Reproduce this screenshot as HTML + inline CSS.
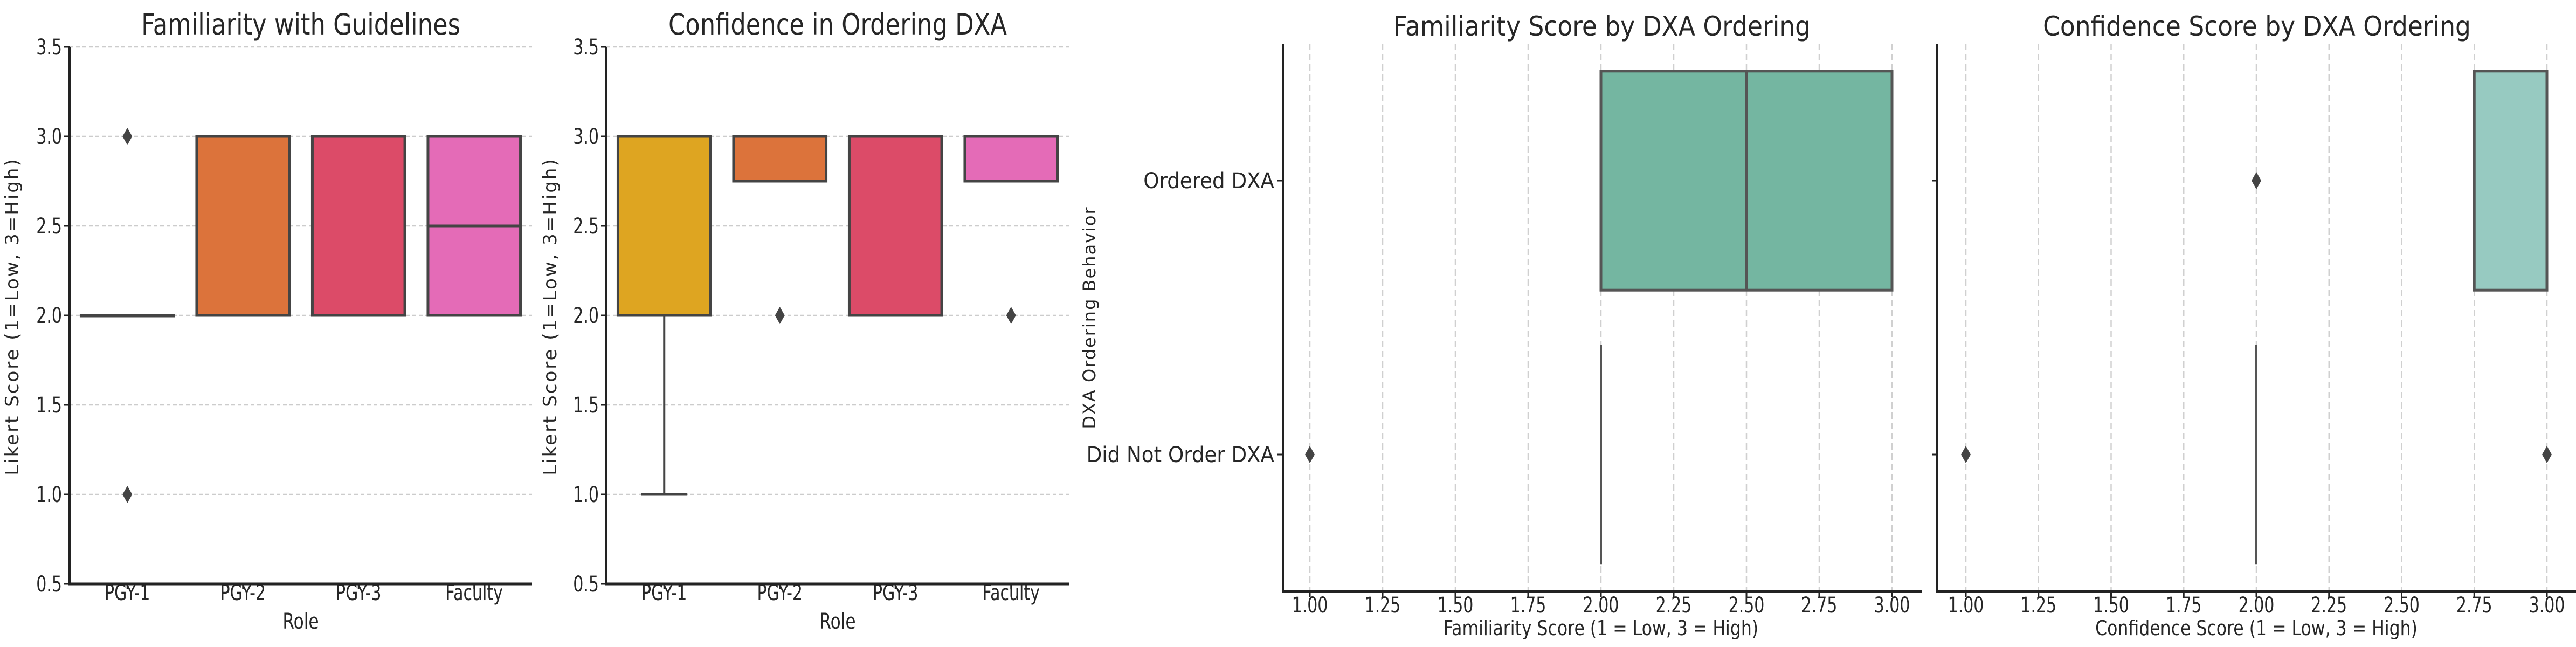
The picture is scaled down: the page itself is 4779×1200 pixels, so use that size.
<!DOCTYPE html>
<html><head><meta charset="utf-8"><style>
html,body{margin:0;padding:0;background:#fff}
svg{display:block}
text{font-family:"DejaVu Sans","Liberation Sans",sans-serif;fill:#262626}
</style></head><body>
<svg id="chart" width="4779" height="1200" viewBox="0 0 4779 1200" xmlns="http://www.w3.org/2000/svg"></svg>
<script>
// ---- data ----
const roleCategories = ["PGY-1","PGY-2","PGY-3","Faculty"];
const famQ1 = [2,2,2,2];
const famMed = [2,3,3,2.5];
const famQ3 = [2,3,3,3];
const famWLo = [2,2,2,2];
const famWHi = [2,3,3,3];
const famOut = [[3,1],[],[],[]];
const roleColors1 = ["#3c9ed8","#dc733b","#dc4b68","#e46bb7"];

const confQ1 = [2,2.75,2,2.75];
const confMed = [3,3,3,3];
const confQ3 = [3,3,3,3];
const confWLo = [1,2.75,2,2.75];
const confWHi = [3,3,3,3];
const confOut = [[],[2],[],[2]];
const roleColors2 = ["#dea521","#dc733b","#dc4b68","#e46bb7"];

const likertTicks = [0.5,1.0,1.5,2.0,2.5,3.0,3.5];
const likertTickLabels = ["0.5","1.0","1.5","2.0","2.5","3.0","3.5"];

const dxaCategories = ["Ordered DXA","Did Not Order DXA"];
const dxaFamQ1 = [2,2], dxaFamMed = [2.5,2], dxaFamQ3 = [3,2];
const dxaFamOut = [[],[1]];
const dxaConfQ1 = [2.75,2], dxaConfMed = [3,2], dxaConfQ3 = [3,2];
const dxaConfOut = [[2],[1,3]];
const scoreTicks = [1,1.25,1.5,1.75,2,2.25,2.5,2.75,3];
const scoreTickLabels = ["1.00","1.25","1.50","1.75","2.00","2.25","2.50","2.75","3.00"];

const svg = document.getElementById('chart');
const NS = "http://www.w3.org/2000/svg";
function el(tag, attrs, parent){
  const e = document.createElementNS(NS, tag);
  for (const k in attrs) e.setAttribute(k, attrs[k]);
  (parent||svg).appendChild(e);
  return e;
}
function txt(x,y,s,size,anchor,name,sx,rot,ls){
  const g = el('g',{transform:`translate(${x},${y})`+(rot?' rotate(-90)':'')+` scale(${sx},1)`});
  const t = el('text',{x:0,y:0,'font-size':size,'text-anchor':anchor},g);
  if (ls) t.setAttribute('letter-spacing', ls);
  t.textContent = s;
  
  
  return t;
}
function diamond(cx,cy,name){
  const p = el('polygon',{points:`${cx},${cy-16} ${cx+9},${cy} ${cx},${cy+16} ${cx-9},${cy}`,fill:'#444'});
  
  
}

function vPanel(o){
  const L=o.left,R=o.right,T=87,B=1083, vmin=0.5,vmax=3.5;
  const y = v => B - (v-vmin)/(vmax-vmin)*(B-T);
  const n = o.cats.length, step=(R-L)/n;
  const x = i => L + step*(i+0.5);
  likertTicks.forEach((v,i)=>{
    const g = el('line',{x1:L,x2:R,y1:y(v),y2:y(v),stroke:'#cccccc','stroke-width':2.5,'stroke-dasharray':'7,5'});
    
    
    el('line',{x1:L-10,x2:L,y1:y(v),y2:y(v),stroke:'#222','stroke-width':3});
    txt(L-14,y(v)+14,likertTickLabels[i],40,'end','y-tick-label',0.75);
  });
  const bw = step*0.8;
  o.cats.forEach((c,i)=>{
    const cx = x(i);
    if (o.wlo[i] < o.q1[i]) el('line',{x1:cx,x2:cx,y1:y(o.q1[i]),y2:y(o.wlo[i]),stroke:'#444','stroke-width':4});
    if (o.whi[i] > o.q3[i]) el('line',{x1:cx,x2:cx,y1:y(o.q3[i]),y2:y(o.whi[i]),stroke:'#444','stroke-width':4});
    if (o.wlo[i] < o.q1[i]) el('line',{x1:cx-bw/4,x2:cx+bw/4,y1:y(o.wlo[i]),y2:y(o.wlo[i]),stroke:'#444','stroke-width':5});
    const r = el('rect',{x:cx-bw/2,y:y(o.q3[i]),width:bw,height:Math.max(1,y(o.q1[i])-y(o.q3[i])),fill:o.colors[i],stroke:'#444','stroke-width':5});
    
    
    el('line',{x1:cx-bw/2,x2:cx+bw/2,y1:y(o.med[i]),y2:y(o.med[i]),stroke:'#444','stroke-width':5});
    o.out[i].forEach(v=>diamond(cx,y(v),'outlier'));
    el('line',{x1:cx,x2:cx,y1:B,y2:B+10,stroke:'#222','stroke-width':3});
    txt(cx,1113,c,40,'middle','x-tick-label',0.75);
  });
  el('line',{x1:L,x2:L,y1:T,y2:B+2,stroke:'#222','stroke-width':4});
  el('line',{x1:L-2,x2:R,y1:B,y2:B,stroke:'#222','stroke-width':5});
  txt((L+R)/2,64,o.title,54,'middle','panel-title',0.83);
  txt((L+R)/2,1166,'Role',40,'middle','x-axis-title',0.78);
  txt(o.ylx,587,'Likert Score (1=Low, 3=High)',34,'middle','y-axis-title',1,true,3);
}
vPanel({left:129,right:987,cats:roleCategories,q1:famQ1,med:famMed,q3:famQ3,wlo:famWLo,whi:famWHi,out:famOut,colors:roleColors1,title:'Familiarity with Guidelines',ylx:34});
vPanel({left:1125,right:1983,cats:roleCategories,q1:confQ1,med:confMed,q3:confQ3,wlo:confWLo,whi:confWHi,out:confOut,colors:roleColors2,title:'Confidence in Ordering DXA',ylx:1032});

function hPanel(o){
  const L=o.left,R=o.right,T=81,B=1097;
  const x = v => o.x1 + (v-1)*o.unit;
  const step=(B-T)/o.cats.length;
  const y = i => T + step*(i+0.5);
  scoreTicks.forEach((v,i)=>{
    const g = el('line',{x1:x(v),x2:x(v),y1:T,y2:B,stroke:'#d0d0d0','stroke-width':2.5,'stroke-dasharray':'12,7'});
    
    
    el('line',{x1:x(v),x2:x(v),y1:B,y2:B+10,stroke:'#222','stroke-width':3});
    txt(x(v),1136,scoreTickLabels[i],40,'middle','x-tick-label',0.75);
  });
  const bh = step*0.8;
  o.cats.forEach((c,i)=>{
    const cy=y(i);
    el('line',{x1:L-10,x2:L,y1:cy,y2:cy,stroke:'#222','stroke-width':3});
    if (o.labels) txt(L-16,cy+14,c,40,'end','y-tick-label',0.93);
    if (o.q3[i]>o.q1[i]){
      const r = el('rect',{x:x(o.q1[i]),y:cy-bh/2,width:x(o.q3[i])-x(o.q1[i]),height:bh,fill:o.color,stroke:'#555','stroke-width':5});
      
      
      el('line',{x1:x(o.med[i]),x2:x(o.med[i]),y1:cy-bh/2,y2:cy+bh/2,stroke:'#555','stroke-width':4});
    } else {
      const r = el('line',{x1:x(o.med[i]),x2:x(o.med[i]),y1:cy-bh/2,y2:cy+bh/2,stroke:'#555','stroke-width':4});
      
      
    }
    o.out[i].forEach(v=>diamond(x(v),cy,'outlier'));
  });
  el('line',{x1:L,x2:L,y1:T,y2:B+2,stroke:'#222','stroke-width':4});
  el('line',{x1:L-2,x2:R,y1:B,y2:B,stroke:'#222','stroke-width':5});
  txt(o.tx,66,o.title,50,'middle','panel-title',0.91);
  txt(o.x1+o.unit,1178,o.xlabel,38,'middle','x-axis-title',0.83);
}
hPanel({left:2380,right:3565,x1:2430,unit:540,cats:dxaCategories,q1:dxaFamQ1,med:dxaFamMed,q3:dxaFamQ3,out:dxaFamOut,color:'#74b6a1',labels:true,title:'Familiarity Score by DXA Ordering',tx:2972,xlabel:'Familiarity Score (1 = Low, 3 = High)'});
hPanel({left:3594,right:4779,x1:3647,unit:539,cats:dxaCategories,q1:dxaConfQ1,med:dxaConfMed,q3:dxaConfQ3,out:dxaConfOut,color:'#97cac1',labels:false,title:'Confidence Score by DXA Ordering',tx:4187,xlabel:'Confidence Score (1 = Low, 3 = High)'});
txt(2032,589,'DXA Ordering Behavior',32,'middle','y-axis-title',1,true,2);
</script>
</body></html>
